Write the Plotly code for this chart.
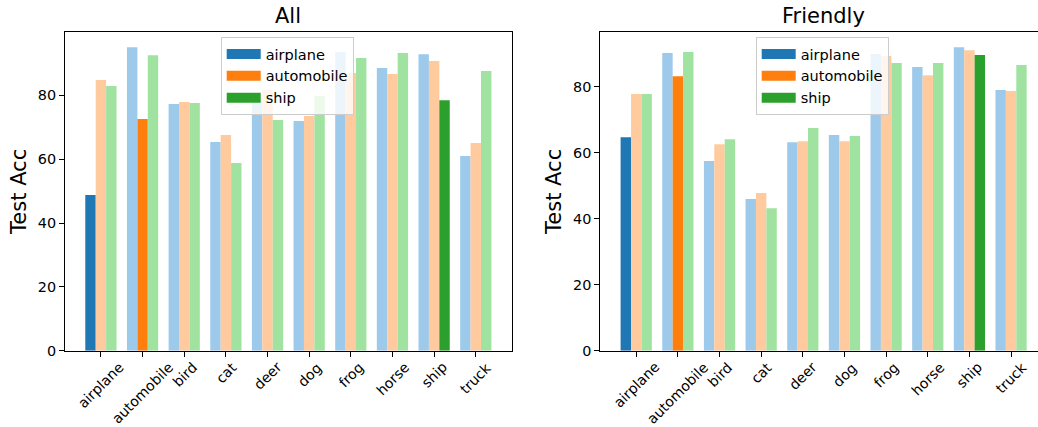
import plotly.graph_objects as go

categories = ["airplane", "automobile", "bird", "cat", "deer", "dog", "frog", "horse", "ship", "truck"]
series_names = ["airplane", "automobile", "ship"]

all_airplane = [48.8, 95.1, 77.3, 65.4, 79.2, 72.0, 93.6, 88.6, 92.9, 61.0]
all_automobile = [84.8, 72.6, 77.9, 67.6, 81.7, 73.5, 87.0, 86.7, 90.8, 65.1]
all_ship = [82.9, 92.6, 77.6, 58.8, 72.3, 79.8, 91.7, 93.3, 78.5, 87.6]

friendly_airplane = [64.7, 90.2, 57.5, 46.0, 63.2, 65.4, 89.9, 86.0, 92.0, 79.0]
friendly_automobile = [77.8, 83.2, 62.6, 47.8, 63.5, 63.5, 89.3, 83.5, 91.1, 78.7]
friendly_ship = [77.8, 90.5, 64.1, 43.2, 67.5, 65.1, 87.2, 87.2, 89.6, 86.6]

panel_titles = ["All", "Friendly"]
y_ticks = [0, 20, 40, 60, 80]

full_colors = ["#1f77b4", "#ff7f0e", "#2ca02c"]
light_colors = ["#9dcaeb", "#ffcb9e", "#a0e3a0"]

W, H = 1038, 427
FONT = "DejaVu Sans"

panels = [
    [all_airplane, all_automobile, all_ship],
    [friendly_airplane, friendly_automobile, friendly_ship],
]

# pixel geometry of the two axes boxes
px_left = [65.0, 600.3]
unit_px = 41.65
y_top_px, y_bot_px = 32.0, 350.7
bar_w = 0.25
offsets = [-0.375, -0.125, 0.125]

fig = go.Figure()
layout = dict(
    width=W, height=H, margin=dict(l=0, r=0, t=0, b=0, autoexpand=False),
    paper_bgcolor="white", plot_bgcolor="white",
    barmode="overlay", font=dict(family=FONT, color="black"),
    showlegend=True,
)
annotations = []

for p, vals in enumerate(panels):
    xa = "x" if p == 0 else "x2"
    ya = "y" if p == 0 else "y2"
    xmin = -0.8625
    x0 = px_left[p]
    x1 = min(x0 + unit_px * 10.725, W)
    xmax = xmin + (x1 - x0) / unit_px
    ymax = max(max(v) for v in vals) * 1.05

    for s, name in enumerate(series_names):
        colors = [full_colors[s] if c == name else light_colors[s] for c in categories]
        fig.add_trace(go.Bar(
            x=categories, y=vals[s], xaxis=xa, yaxis=ya,
            width=bar_w, offset=offsets[s],
            marker=dict(color=colors, line=dict(width=0)),
            showlegend=False, name=name,
        ))
    for s, name in enumerate(series_names):
        fig.add_trace(go.Scatter(
            x=[None], y=[None], xaxis=xa, yaxis=ya, mode="lines",
            line=dict(color=full_colors[s], width=10),
            name=name, showlegend=True,
            legend="legend" if p == 0 else "legend2",
        ))

    xkey = "xaxis" if p == 0 else "xaxis2"
    ykey = "yaxis" if p == 0 else "yaxis2"
    layout[xkey] = dict(
        domain=[x0 / W, x1 / W], anchor=ya,
        type="category", categoryorder="array", categoryarray=categories,
        range=[xmin, xmax], showgrid=False, zeroline=False,
        showline=True, mirror=True, linecolor="black", linewidth=1,
        ticks="outside", ticklen=5, tickcolor="black", tickwidth=1,
        showticklabels=False, fixedrange=True, automargin=False,
    )
    layout[ykey] = dict(
        domain=[1 - y_bot_px / H, 1 - y_top_px / H], anchor=xa,
        range=[0, ymax], showgrid=False, zeroline=False,
        showline=True, mirror=(p == 0), linecolor="black", linewidth=1,
        ticks="outside", ticklen=5, tickcolor="black", tickwidth=1,
        tickvals=y_ticks, tickfont=dict(size=14.4, family=FONT, color="black"),
        title=dict(text="Test Acc", font=dict(size=21, family=FONT, color="black"), standoff=5),
        automargin=False, fixedrange=True,
    )
    # rotated category labels centred on ticks
    for c in categories:
        annotations.append(dict(
            x=c, xref=xa, y=1 - 356.5 / H, yref="paper",
            text=c, textangle=-45, xanchor="center", yanchor="top",
            showarrow=False, font=dict(size=14.1, family=FONT, color="black"),
        ))
    # panel title
    annotations.append(dict(
        x=(x0 + (x0 + unit_px * 10.725)) / 2 / W, xref="paper",
        y=1 - 30 / H, yref="paper", text=panel_titles[p],
        xanchor="center", yanchor="bottom", showarrow=False,
        font=dict(size=21, family=FONT, color="black"),
    ))

legend_style = dict(
    bgcolor="rgba(255,255,255,0.8)", bordercolor="#cccccc", borderwidth=1,
    font=dict(size=14.5, family=FONT, color="black"),
    xanchor="left", yanchor="top", xref="paper", yref="paper",
    tracegroupgap=0, itemwidth=34,
)
layout["legend"] = dict(legend_style, x=220.7 / W, y=1 - 37 / H)
layout["legend2"] = dict(legend_style, x=755.7 / W, y=1 - 37 / H)
layout["annotations"] = annotations

fig.update_layout(**layout)
fig.write_html(
    "out.html",
    config={"displayModeBar": False},
    post_script="document.body.style.margin='0';document.body.style.padding='0';",
)
